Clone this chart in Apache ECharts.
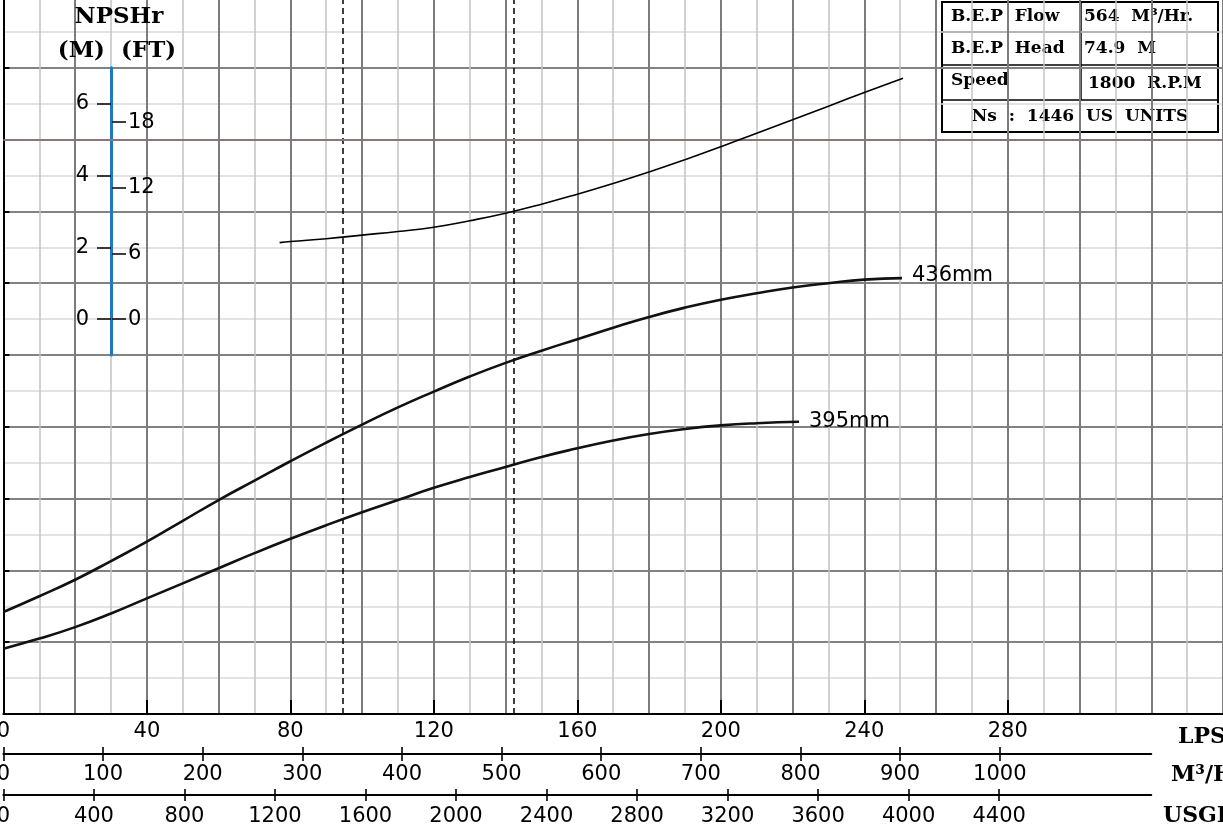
<!DOCTYPE html>
<html><head><meta charset="utf-8">
<script src="https://cdn.jsdelivr.net/npm/echarts@6/dist/echarts.min.js"></script>
<style>html,body{margin:0;padding:0;background:#fff}#c{width:1223px;height:832px}</style>
</head><body><div id="c"></div>
<script>
// ---- data ----
const flow436 = [0,10,20,30,40,50,60,70,80,90,100,110,120,130,140,150,160,170,180,190,200,210,220,230,240,250.5];
const head436 = [14.2,16.4,18.7,21.3,24.0,26.9,29.8,32.5,35.2,37.8,40.3,42.7,44.9,47.0,48.9,50.6,52.2,53.8,55.3,56.6,57.7,58.6,59.4,60.0,60.5,60.7];
const flow395 = [0,10,20,30,40,50,60,70,80,90,100,110,120,130,140,150,160,170,180,190,200,210,221.8];
const head395 = [9.1,10.5,12.1,14.0,16.1,18.2,20.3,22.4,24.4,26.3,28.1,29.8,31.5,33.0,34.4,35.8,37.0,38.1,39.0,39.7,40.2,40.5,40.7];
const flowNpsh = [77,80,90,100,110,120,130,140,150,160,170,180,190,200,210,220,230,240,250.8];
const npshM = [2.13,2.16,2.24,2.34,2.44,2.56,2.74,2.95,3.2,3.48,3.78,4.10,4.44,4.80,5.18,5.55,5.93,6.31,6.71];
const dashedFlows = [94.7, 142.2];
const accentLines = [80];
const lpsTicks = [0,40,80,120,160,200,240,280];
const m3hTicks = [0,100,200,300,400,500,600,700,800,900,1000];
const usgpmTicks = [0,400,800,1200,1600,2000,2400,2800,3200,3600,4000,4400];
const npshMTicks = [0,2,4,6];
const npshFtTicks = [0,6,12,18];
const curveNames = ['436mm','395mm'];
const tableRows = [['B.E.P  Flow','564  M³/Hr.'],['B.E.P  Head','74.9  M'],['Speed','1800  R.P.M']];
const tableFooter = 'Ns  :  1446  US  UNITS';
const unitNames = ['LPS','M³/H','USGPM'];

// ---- chart ----
const LPS_MAX = 340, LPS_AXIS_END = 320;
const M3H_PER_LPS = 3.6, USGPM_PER_LPS = 15.8503;
const zip = (a,b)=>a.map((v,i)=>[v,b[i]]);
const sans = '"DejaVu Sans", sans-serif';
const serif = '"DejaVu Serif", serif';
const black = '#000';
const plain = v => String(v);
const FS = 21;

function bottomAxis(grid, max, ticks, inside, len, showLine, showLabel, margin){
  return {type:'value', gridIndex:grid, min:0, max:max, position:'bottom',
    axisLine:{show:showLine, onZero:false, lineStyle:{color:black, width:2}},
    axisTick:{show:true, inside:inside, length:len, customValues:ticks, lineStyle:{color:black, width:1.6}},
    axisLabel:{show:showLabel, customValues:ticks, formatter:plain, margin:margin, fontSize:FS, color:black, fontFamily:sans},
    splitLine:{show:false}};
}
const G = {outerBoundsMode:'none', containLabel:false};

const option = {
  backgroundColor:'#fff',
  animation:false,
  grid:[
    Object.assign({left:3.4, right:0, top:-4, bottom:118}, G),
    Object.assign({left:111, width:1, top:67.8, height:287.2}, G),
    Object.assign({left:3.4, width:LPS_AXIS_END*3.587, top:700, height:54}, G),
    Object.assign({left:3.4, width:LPS_AXIS_END*3.587, top:741, height:54}, G)
  ],
  xAxis:[
    {type:'value', gridIndex:0, min:0, max:LPS_MAX, interval:20,
      axisLine:{show:false, onZero:false}, axisTick:{show:false}, axisLabel:{show:false},
      splitLine:{show:true, lineStyle:{color:'#7c7c7c', width:2}},
      minorTick:{show:false, splitNumber:2},
      minorSplitLine:{show:true, lineStyle:{color:'#c4c4c4', width:1.5}}},
    {type:'value', gridIndex:0, min:0, max:LPS_MAX, interval:40, position:'bottom',
      axisLine:{show:true, onZero:false, lineStyle:{color:black, width:2}},
      axisTick:{show:true, inside:true, length:14, customValues:lpsTicks.filter(v=>v>0), lineStyle:{color:black, width:2}},
      axisLabel:{customValues:lpsTicks, formatter:plain, margin:7, fontSize:FS, color:black, fontFamily:sans},
      splitLine:{show:false}},
    {type:'value', gridIndex:1, min:0, max:1, show:false},
    bottomAxis(2, LPS_AXIS_END*M3H_PER_LPS, m3hTicks, false, 7, true, true, 10),
    bottomAxis(2, LPS_AXIS_END*M3H_PER_LPS, m3hTicks, true, 7, false, false, 10),
    bottomAxis(3, LPS_AXIS_END*USGPM_PER_LPS, usgpmTicks, false, 6, true, true, 11),
    bottomAxis(3, LPS_AXIS_END*USGPM_PER_LPS, usgpmTicks, true, 6, false, false, 11)
  ],
  yAxis:[
    {type:'value', gridIndex:0, min:0, max:100, interval:10, position:'left',
      axisLine:{show:true, onZero:false, lineStyle:{color:black, width:2}},
      axisTick:{show:true, inside:true, length:6, lineStyle:{color:black, width:2}},
      axisLabel:{show:false},
      splitLine:{show:true, lineStyle:{color:'#828282', width:2}},
      minorTick:{show:false, splitNumber:2},
      minorSplitLine:{show:true, lineStyle:{color:'#dadada', width:1.5}}},
    {type:'value', gridIndex:0, min:-11, max:9, show:false},
    {type:'value', gridIndex:1, min:-1, max:7, position:'left',
      axisLine:{show:true, onZero:false, lineStyle:{color:'#1f78c2', width:3}},
      axisTick:{show:true, inside:false, length:14, customValues:npshMTicks, lineStyle:{color:black, width:1.5}},
      axisLabel:{customValues:npshMTicks, formatter:plain, margin:22, fontSize:FS, color:black, fontFamily:sans},
      splitLine:{show:false}},
    {type:'value', gridIndex:1, min:-1*3.28084, max:7*3.28084, position:'right',
      axisLine:{show:false, onZero:false},
      axisTick:{show:true, inside:false, length:14, customValues:npshFtTicks, lineStyle:{color:black, width:1.5}},
      axisLabel:{customValues:npshFtTicks, formatter:plain, margin:16, fontSize:FS, color:black, fontFamily:sans},
      splitLine:{show:false}},
    {type:'value', gridIndex:2, show:false, min:0, max:1},
    {type:'value', gridIndex:3, show:false, min:0, max:1}
  ],
  series:[
    {type:'line', name:curveNames[0], xAxisIndex:0, yAxisIndex:0, data:zip(flow436, head436), smooth:0.5,
      showSymbol:false, symbol:'none', lineStyle:{color:'#111', width:2.6}, z:5,
      endLabel:{show:true, formatter:curveNames[0], fontSize:FS, color:black, fontFamily:sans, distance:10, offset:[0,-3]}},
    {type:'line', name:curveNames[1], xAxisIndex:0, yAxisIndex:0, data:zip(flow395, head395), smooth:0.5,
      showSymbol:false, symbol:'none', lineStyle:{color:'#111', width:2.6}, z:5,
      endLabel:{show:true, formatter:curveNames[1], fontSize:FS, color:black, fontFamily:sans, distance:10, offset:[0,0]}},
    {type:'line', name:'NPSHr', xAxisIndex:0, yAxisIndex:1, data:zip(flowNpsh, npshM), smooth:0.5,
      showSymbol:false, symbol:'none', lineStyle:{color:'#000', width:1.6}, z:5},
    {type:'line', xAxisIndex:0, yAxisIndex:0, data:[], z:4,
      markLine:{silent:true, symbol:['none','none'], label:{show:false},
        lineStyle:{color:'#000', type:[6,4], width:1.5},
        data:dashedFlows.map(v=>({xAxis:v}))}},
    {type:'line', xAxisIndex:0, yAxisIndex:0, data:[], z:3,
      markLine:{silent:true, symbol:['none','none'], label:{show:false},
        lineStyle:{color:'#8a7676', type:'solid', width:2},
        data:accentLines.map(v=>({yAxis:v}))}}
  ],
  graphic:[
    {type:'text', z:50, style:{text:'NPSHr', x:119, y:17, font:'bold 23px '+serif, fill:black, align:'center', verticalAlign:'middle'}},
    {type:'text', z:50, style:{text:'(M)  (FT)', x:117, y:51, font:'bold 23px '+serif, fill:black, align:'center', verticalAlign:'middle'}},
    {type:'text', z:50, style:{text:unitNames[0], x:1178, y:737, font:'bold 22px '+serif, fill:black, align:'left', verticalAlign:'middle'}},
    {type:'text', z:50, style:{text:unitNames[1], x:1171, y:775, font:'bold 22px '+serif, fill:black, align:'left', verticalAlign:'middle'}},
    {type:'text', z:50, style:{text:unitNames[2], x:1163, y:816, font:'bold 22px '+serif, fill:black, align:'left', verticalAlign:'middle'}},
    {type:'group', z:100, children:[
      {type:'rect', shape:{x:942, y:2, width:276, height:130}, style:{fill:'#fff', stroke:black, lineWidth:2}},
      {type:'line', shape:{x1:942, y1:32, x2:1218, y2:32}, style:{stroke:black, lineWidth:1.5}},
      {type:'line', shape:{x1:942, y1:65, x2:1218, y2:65}, style:{stroke:black, lineWidth:1.5}},
      {type:'line', shape:{x1:942, y1:100, x2:1218, y2:100}, style:{stroke:black, lineWidth:1.5}},
      {type:'line', shape:{x1:1081, y1:2, x2:1081, y2:100}, style:{stroke:black, lineWidth:1.5}},
      ...tableRows.flatMap((r,i)=>{
        const ys=[17,49,81], ys2=[17,49,84];
        return [
          {type:'text', style:{text:r[0], x:951, y:ys[i], font:'bold 17px '+serif, fill:black, align:'left', verticalAlign:'middle'}},
          {type:'text', style:{text:r[1], x:i===2?1088:1084, y:ys2[i], font:'bold 17px '+serif, fill:black, align:'left', verticalAlign:'middle'}}
        ];
      }),
      {type:'text', style:{text:tableFooter, x:1080, y:117, font:'bold 17px '+serif, fill:black, align:'center', verticalAlign:'middle'}}
    ]}
  ]
};
const chart = echarts.init(document.getElementById('c'));
chart.setOption(option);
</script>
</body></html>
